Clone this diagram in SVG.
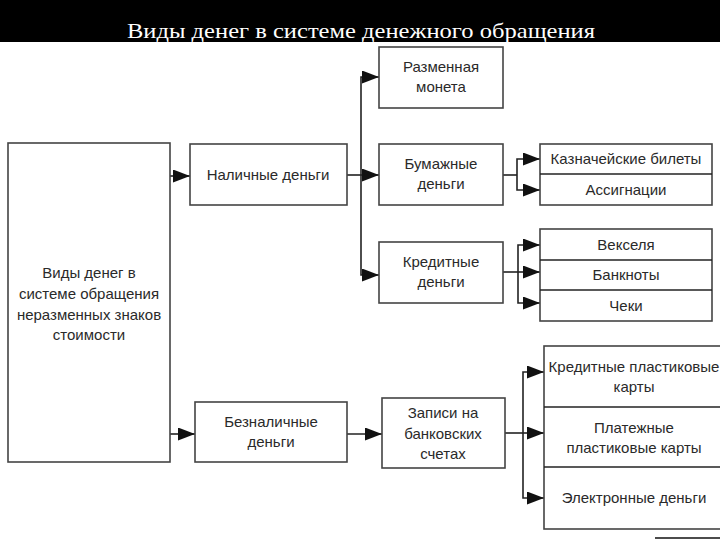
<svg xmlns="http://www.w3.org/2000/svg" width="720" height="540" viewBox="0 0 720 540">
<defs>
<marker id="arr" markerUnits="userSpaceOnUse" markerWidth="17" markerHeight="13" refX="17" refY="6.5" orient="auto">
<path d="M0,0 L17,6.5 L0,13 Z" fill="#111"/>
</marker>
<style>
.box{fill:#fff;stroke:#444;stroke-width:1.6}
.t{font-family:"Liberation Sans",Arial,sans-serif;font-size:15px;fill:#2a2a2a;text-anchor:middle}
.c{fill:none;stroke:#222;stroke-width:1.6}
.a{marker-end:url(#arr)}
</style>
</defs>
<rect x="0" y="0" width="720" height="540" fill="#fff"/>
<g id="title">
<rect x="0" y="0" width="720" height="42" fill="#000"/>
<text x="127" y="38" font-family="'Liberation Serif','Times New Roman',serif" font-size="22" fill="#fff" textLength="468" lengthAdjust="spacingAndGlyphs">Виды денег в системе денежного обращения</text>
</g>
<g id="connectors">
<path class="c a" d="M170,176 H190"/>
<path class="c a" d="M347,175 H379"/>
<path class="c a" d="M361,175 V77 H379"/>
<path class="c a" d="M361,175 V275 H379"/>
<path class="c" d="M503,175 H517"/>
<path class="c a" d="M517,175 V159 H540"/>
<path class="c a" d="M517,175 V190 H540"/>
<path class="c" d="M503,272 H518"/>
<path class="c a" d="M518,272 V245 H540"/>
<path class="c a" d="M518,272 H540"/>
<path class="c a" d="M518,272 V303 H540"/>
<path class="c a" d="M170,434 H195"/>
<path class="c a" d="M347,434 H382"/>
<path class="c" d="M505,433 H523"/>
<path class="c a" d="M523,433 V372 H544"/>
<path class="c a" d="M523,433 H544"/>
<path class="c a" d="M523,433 V498 H544"/>
</g>
<g id="root">
<rect class="box" x="8" y="143" width="162" height="319"/>
<text class="t"><tspan x="89" y="278">Виды денег в</tspan><tspan x="89" y="299">системе обращения</tspan><tspan x="89" y="320">неразменных знаков</tspan><tspan x="89" y="340">стоимости</tspan></text>
</g>
<g id="cash">
<rect class="box" x="190" y="144" width="157" height="61"/>
<text class="t" x="268" y="180">Наличные деньги</text>
</g>
<g id="coin">
<rect class="box" x="379" y="47" width="124" height="61"/>
<text class="t"><tspan x="441" y="72">Разменная</tspan><tspan x="441" y="92">монета</tspan></text>
</g>
<g id="paper">
<rect class="box" x="379" y="144" width="124" height="61"/>
<text class="t"><tspan x="441" y="169">Бумажные</tspan><tspan x="441" y="189">деньги</tspan></text>
</g>
<g id="credit">
<rect class="box" x="379" y="242" width="124" height="61"/>
<text class="t"><tspan x="441" y="267">Кредитные</tspan><tspan x="441" y="287">деньги</tspan></text>
</g>
<g id="paper-kinds">
<rect class="box" x="540" y="144" width="172" height="61"/>
<line class="c" x1="540" y1="174" x2="712" y2="174"/>
<text class="t" x="626" y="164">Казначейские билеты</text>
<text class="t" x="626" y="195">Ассигнации</text>
</g>
<g id="credit-kinds">
<rect class="box" x="540" y="229" width="172" height="92"/>
<line class="c" x1="540" y1="260" x2="712" y2="260"/>
<line class="c" x1="540" y1="290" x2="712" y2="290"/>
<text class="t" x="626" y="250">Векселя</text>
<text class="t" x="626" y="280">Банкноты</text>
<text class="t" x="626" y="311">Чеки</text>
</g>
<g id="noncash">
<rect class="box" x="195" y="402" width="152" height="60"/>
<text class="t"><tspan x="271" y="427">Безналичные</tspan><tspan x="271" y="447">деньги</tspan></text>
</g>
<g id="accounts">
<rect class="box" x="382" y="398" width="123" height="70"/>
<text class="t"><tspan x="443" y="418">Записи на</tspan><tspan x="443" y="439">банковских</tspan><tspan x="443" y="459">счетах</tspan></text>
</g>
<g id="noncash-kinds">
<rect class="box" x="544" y="346" width="180" height="183"/>
<line class="c" x1="544" y1="407" x2="720" y2="407"/>
<line class="c" x1="544" y1="467" x2="720" y2="467"/>
<text class="t"><tspan x="634" y="372">Кредитные пластиковые</tspan><tspan x="634" y="392">карты</tspan></text>
<text class="t"><tspan x="634" y="433">Платежные</tspan><tspan x="634" y="453">пластиковые карты</tspan></text>
<text class="t" x="634" y="503">Электронные деньги</text>
</g>
<line x1="655" y1="538" x2="720" y2="538" stroke="#111" stroke-width="1.5"/>
</svg>
